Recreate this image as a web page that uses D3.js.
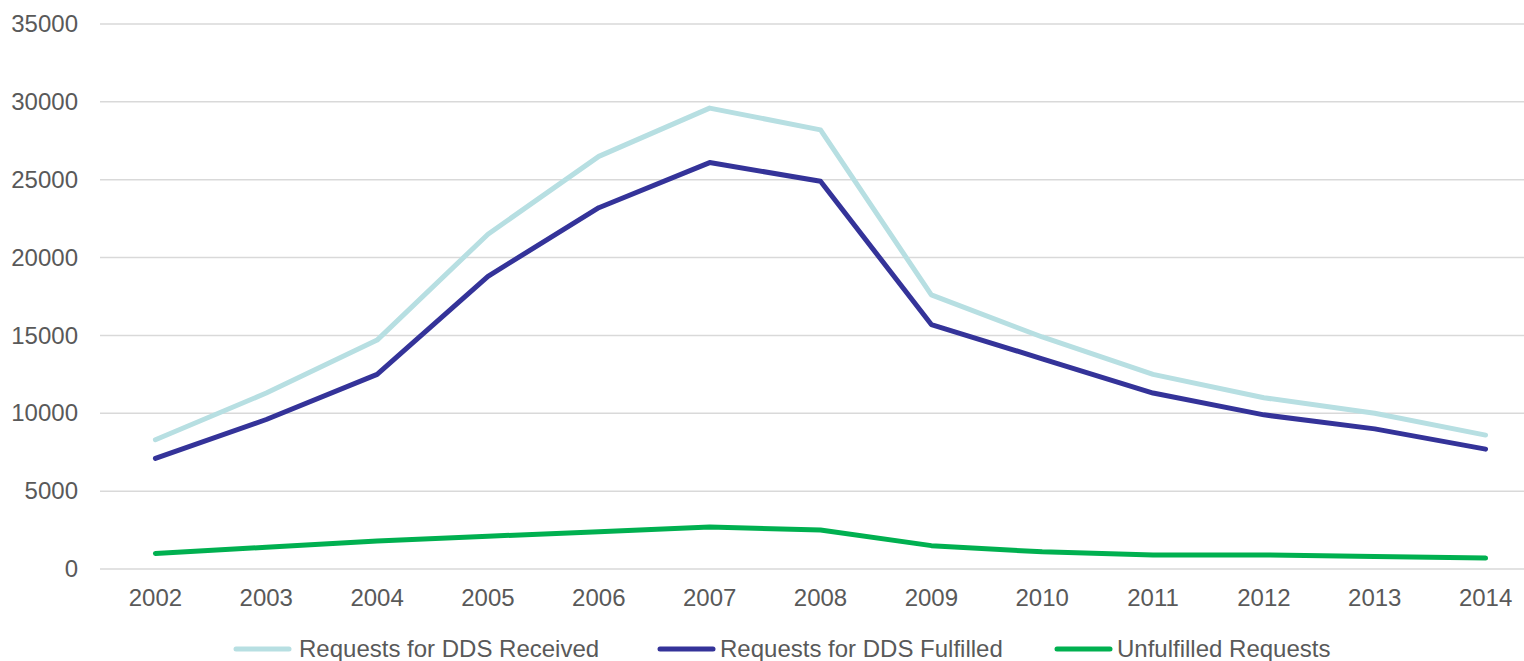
<!DOCTYPE html>
<html>
<head>
<meta charset="utf-8">
<script src="https://cdn.jsdelivr.net/npm/d3@7"></script>
<style>
  body { margin: 0; background: #fff; }
  svg { display: block; font-family: "Liberation Sans", Arial, sans-serif; }
</style>
</head>
<body>
<svg id="chart" width="1524" height="661"></svg>
<script>
const years = ["2002", "2003", "2004", "2005", "2006", "2007", "2008", "2009", "2010", "2011", "2012", "2013", "2014"];
const received = [8300, 11300, 14700, 21500, 26500, 29600, 28200, 17600, 14900, 12500, 11000, 10000, 8600];
const fulfilled = [7100, 9600, 12500, 18800, 23200, 26100, 24900, 15700, 13500, 11300, 9900, 9000, 7700];
const unfulfilled = [1000, 1400, 1800, 2100, 2400, 2700, 2500, 1500, 1100, 900, 900, 800, 700];
const yTicks = [0, 5000, 10000, 15000, 20000, 25000, 30000, 35000];

const seriesNames = ["Requests for DDS Received", "Requests for DDS Fulfilled", "Unfulfilled Requests"];
const seriesColors = ["#b7dfe2", "#343399", "#00b050"];
const series = [received, fulfilled, unfulfilled];

const svg = d3.select("#chart");
const textColor = "#595959";
const fontSize = 24;

const x = d3.scaleBand().domain(years).range([100, 1541]);
const y = d3.scaleLinear().domain([0, 35000]).range([569, 24]);

// gridlines
svg.append("g")
  .selectAll("line")
  .data(yTicks)
  .join("line")
  .attr("x1", 100)
  .attr("x2", 1524)
  .attr("y1", d => y(d))
  .attr("y2", d => y(d))
  .attr("stroke", "#d9d9d9")
  .attr("stroke-width", 1.5);

// y axis
const yAxis = svg.append("g")
  .attr("transform", "translate(100,0)")
  .call(d3.axisLeft(y).tickValues(yTicks).tickSize(0).tickPadding(22).tickFormat(d3.format("d")));
yAxis.select(".domain").remove();
yAxis.selectAll("text").attr("font-size", fontSize).attr("fill", textColor).attr("font-family", "Liberation Sans, Arial, sans-serif");

// x axis
const xAxis = svg.append("g")
  .attr("transform", "translate(0,569)")
  .call(d3.axisBottom(x).tickSize(0).tickPadding(20));
xAxis.select(".domain").remove();
xAxis.selectAll("text").attr("font-size", fontSize).attr("fill", textColor).attr("font-family", "Liberation Sans, Arial, sans-serif");

// lines
const line = d3.line()
  .x((d, i) => x(years[i]) + x.bandwidth() / 2)
  .y(d => y(d));

series.forEach((vals, i) => {
  svg.append("path")
    .datum(vals)
    .attr("fill", "none")
    .attr("stroke", seriesColors[i])
    .attr("stroke-width", 5)
    .attr("stroke-linejoin", "round")
    .attr("stroke-linecap", "round")
    .attr("d", line);
});

// legend
const legendX = [236, 660, 1057];
const legend = svg.append("g");
seriesNames.forEach((name, i) => {
  const g = legend.append("g").attr("transform", `translate(${legendX[i]},649)`);
  g.append("line")
    .attr("x1", 0).attr("x2", 53)
    .attr("stroke", seriesColors[i])
    .attr("stroke-width", 5)
    .attr("stroke-linecap", "round");
  g.append("text")
    .attr("x", i === 0 ? 63 : 60)
    .attr("dy", "0.35em")
    .attr("font-size", fontSize)
    .attr("fill", textColor)
    .text(name);
});
</script>
</body>
</html>
